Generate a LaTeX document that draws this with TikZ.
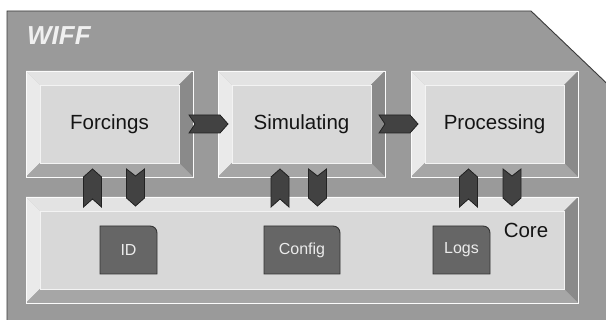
\documentclass[tikz,border=0pt]{standalone}
\usepackage{fontspec}
\setmainfont{Liberation Sans}
\definecolor{bg}{HTML}{9A9A9A}
\definecolor{bgline}{HTML}{3A3A3A}
\definecolor{face}{HTML}{D8D8D8}
\definecolor{btop}{HTML}{E3E3E3}
\definecolor{bleft}{HTML}{EAEAEA}
\definecolor{bright}{HTML}{8A8A8A}
\definecolor{bbot}{HTML}{A6A6A6}
\definecolor{chevfill}{HTML}{424242}
\definecolor{chevline}{HTML}{222222}
\definecolor{smallfill}{HTML}{666666}
\definecolor{smallline}{HTML}{333333}
\tikzset{
  boxlabel/.style={inner sep=0pt, text=black!92, font=\fontsize{20.5}{24}\selectfont},
  smalllabel/.style={inner sep=0pt, text=white!92!black, font=\fontsize{16}{19}\selectfont},
  chev/.style={fill=chevfill, draw=chevline, line width=0.8pt, line join=miter},
  smallbox/.style={fill=smallfill, draw=smallline, line width=0.9pt},
}
% name, x1, y1, x2, y2, text
\newcommand\bevbox[6]{%
  \fill[btop] (#2,#3) -- (#4,#3) -- (#4-14,#3+14) -- (#2+14,#3+14) -- cycle;
  \fill[bleft] (#2,#3) -- (#2+14,#3+14) -- (#2+14,#5-14) -- (#2,#5) -- cycle;
  \fill[bright] (#4,#3) -- (#4,#5) -- (#4-14,#5-14) -- (#4-14,#3+14) -- cycle;
  \fill[bbot] (#2,#5) -- (#4,#5) -- (#4-14,#5-14) -- (#2+14,#5-14) -- cycle;
  \fill[face] (#2+14,#3+14) rectangle (#4-14,#5-14);
  \draw[white!90!face, line width=0.8pt] (#2,#3) rectangle (#4,#5);
  \draw[white!70!face, line width=0.6pt] (#2+14,#3+14) rectangle (#4-14,#5-14);
  \node[boxlabel] (#1) at ({(#2+#4)/2},{(#3+#5)/2}) {#6};
}
% up chevron: name, center x
\newcommand\uparr[2]{%
  \coordinate (#1) at (#2,188);
  \filldraw[chev] (#2,169) -- (#2+9,177) -- (#2+9,207) -- (#2,199) -- (#2-9,207) -- (#2-9,177) -- cycle;
}
\newcommand\downarr[2]{%
  \coordinate (#1) at (#2,188);
  \filldraw[chev] (#2-9,169) -- (#2,176) -- (#2+9,169) -- (#2+9,198) -- (#2,206) -- (#2-9,198) -- cycle;
}
\newcommand\rightarr[2]{%
  \coordinate (#1) at (#2+20,124);
  \filldraw[chev] (#2,115) -- (#2+31,115) -- (#2+39,124) -- (#2+31,133) -- (#2,133) -- (#2+6,124) -- cycle;
}
% name, x1, x2, text
\newcommand\smallbx[4]{%
  \filldraw[smallbox] (#2,274) -- (#2,226) -- (#3-7,226) .. controls (#3-3,226) and (#3,229) .. (#3,233) -- (#3,274) -- cycle;
  \node[smalllabel] (#1) at ({(#2+#3)/2},250) {#4};
}
\begin{document}
\begin{tikzpicture}[x=1pt,y=-1pt]
  \useasboundingbox (0,0) rectangle (606,320);
  \clip (0,0) rectangle (606,320);
  \fill[white] (0,0) rectangle (606,320);
  \filldraw[fill=bg, draw=bgline, line width=0.9pt]
    (7,340) -- (7,11) -- (531,11) -- (620,96) -- (620,340) -- cycle;
  \node[anchor=west, inner sep=0pt, text=white!94!black,
        font=\fontsize{26}{30}\selectfont\bfseries\itshape] (wiff) at (27,36) {WIFF};
  \bevbox{forcings}{26}{71}{193}{177}{Forcings}
  \bevbox{simulating}{218}{71}{385}{177}{Simulating}
  \bevbox{processing}{411}{71}{578}{177}{Processing}
  \bevbox{core}{26}{197}{578}{303}{}
  \node[boxlabel] (corelabel) at (526,230) {Core};
  \smallbx{id}{100}{157}{ID}
  \smallbx{config}{264}{340}{Config}
  \smallbx{logs}{433}{490}{Logs}
  \rightarr{fs}{189}
  \rightarr{sp}{379}
  \uparr{u1}{92.5}
  \downarr{d1}{135.5}
  \uparr{u2}{280}
  \downarr{d2}{317.5}
  \uparr{u3}{468.5}
  \downarr{d3}{512}
\end{tikzpicture}
\end{document}
